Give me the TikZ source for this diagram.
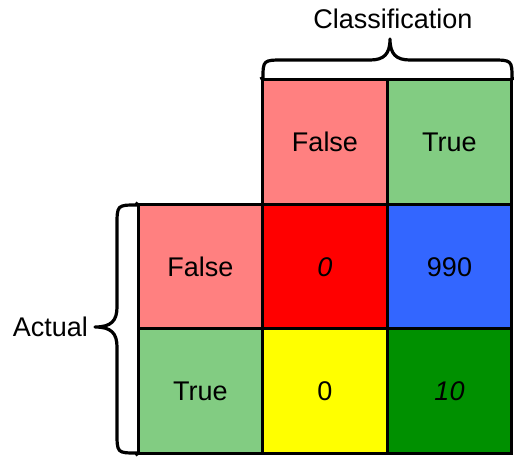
\documentclass[tikz,border=0pt]{standalone}
\usepackage{fontspec}
\setmainfont{Liberation Sans}
\usetikzlibrary{calc}
\definecolor{hdrfalse}{HTML}{FF8080}
\definecolor{hdrtrue}{HTML}{82CC82}
\definecolor{cellred}{HTML}{FF0000}
\definecolor{cellblue}{HTML}{3366FF}
\definecolor{cellyellow}{HTML}{FFFF00}
\definecolor{cellgreen}{HTML}{009000}
\begin{document}
\begin{tikzpicture}[x=1pt,y=-1pt,
  cell/.style={draw=black,line width=3.2pt,minimum width=124.5pt,minimum height=124.5pt,
    inner sep=0pt,font=\fontsize{27}{32}\selectfont},
  brace/.style={draw=black,line width=3.2pt,line join=round,line cap=round},
  lbl/.style={font=\fontsize{27}{32}\selectfont,inner sep=0pt}]
\useasboundingbox (0,0) rectangle (514,458);
% header row: predicted classes
\node[cell,fill=hdrfalse] (hF) at (325,142) {False};
\node[cell,fill=hdrtrue]  (hT) at (449.5,142) {True};
% header column: actual classes
\node[cell,fill=hdrfalse] (aF) at (200.5,267) {False};
\node[cell,fill=hdrtrue]  (aT) at (200.5,391) {True};
% counts
\node[cell,fill=cellred]    (ff) at (325,267) {\itshape 0};
\node[cell,fill=cellblue]   (ft) at (449.5,267) {990};
\node[cell,fill=cellyellow] (tf) at (325,391) {0};
\node[cell,fill=cellgreen]  (tt) at (449.5,391) {\itshape 10};
% brace over the predicted classes
\coordinate (ctip) at (390,39);
\draw[brace] (hF.north west) -- (263,79)
  .. controls (263,60) .. (284,60) -- (370,60)
  .. controls (384,60) and (390,54) .. (ctip)
  .. controls (390,54) and (396,60) .. (410,60) -- (491,60)
  .. controls (512,60) .. (512,79) -- (hT.north east);
\node[lbl] (cls) at (393,19) {Classification};
% brace beside the actual classes
\coordinate (atip) at (95,327);
\draw[brace] (aF.north west) -- (137,205)
  .. controls (117,205) .. (117,226) -- (117,307)
  .. controls (117,321) and (111,327) .. (atip)
  .. controls (111,327) and (117,333) .. (117,347) -- (117,432)
  .. controls (117,453) .. (137,453) -- (aT.south west);
\node[lbl,anchor=east] (act) at (88,327) {Actual};
\end{tikzpicture}
\end{document}
